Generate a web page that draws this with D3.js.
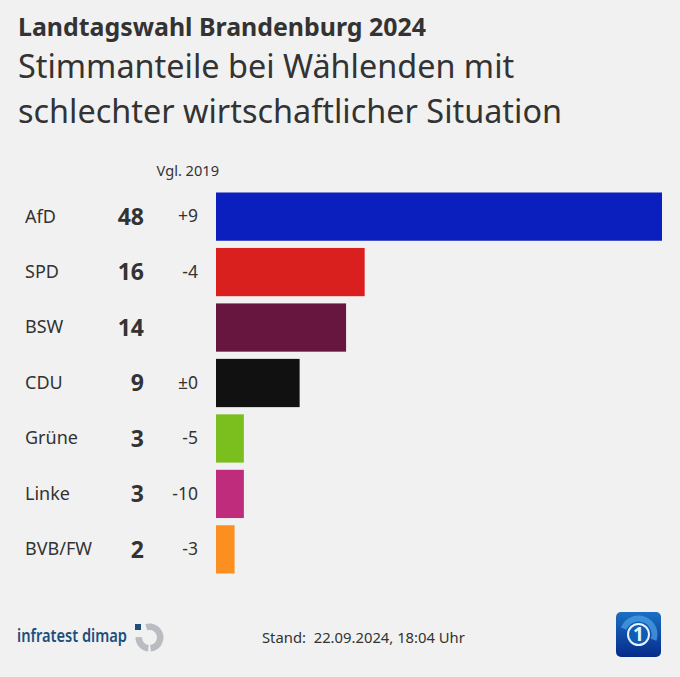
<!DOCTYPE html>
<html>
<head>
<meta charset="utf-8">
<script src="https://cdn.jsdelivr.net/npm/d3@7"></script>
<style>
html, body { margin: 0; padding: 0; background: #f1f1f2; }
svg { display: block; }
text { font-family: "Noto Sans", sans-serif; fill: #333; }
</style>
</head>
<body>
<figure id="chart" style="margin:0"></figure>
<script>
const parties = ['AfD', 'SPD', 'BSW', 'CDU', 'Grüne', 'Linke', 'BVB/FW'];
const shares = [48, 16, 14, 9, 3, 3, 2];
const changes = ['+9', '-4', '', '±0', '-5', '-10', '-3'];
const colors = ['#0a1fbd', '#da1f1f', '#66163f', '#111111', '#7abf1e', '#bf2c7c', '#fb8f1f'];

const width = 680;
const height = 677;

const svg = d3.select('figure#chart')
	.append('svg')
	.attr('width', width)
	.attr('height', height)
	.attr('viewBox', `0 0 ${width} ${height}`);

// titles
svg.append('text').attr('x', 18).attr('y', 36)
	.style('font-size', '24.9px').style('font-weight', 700)
	.text('Landtagswahl Brandenburg 2024');
svg.append('text').attr('x', 18).attr('y', 78)
	.style('font-size', '32.4px')
	.text('Stimmanteile bei Wählenden mit');
svg.append('text').attr('x', 18).attr('y', 123)
	.style('font-size', '32.4px')
	.text('schlechter wirtschaftlicher Situation');

svg.append('text').attr('x', 219).attr('y', 176)
	.attr('text-anchor', 'end')
	.style('font-size', '14.6px')
	.text('Vgl. 2019');

const xScale = d3.scaleLinear().domain([0, 48]).range([216, 662]);
const yScale = d3.scaleBand().domain(parties).range([192.5, 573.5]).paddingInner(0.13);

const rows = parties.map((p, i) => ({ party: p, share: shares[i], change: changes[i], color: colors[i] }));

svg.selectAll('rect.bar')
	.data(rows)
	.enter()
	.append('rect')
	.attr('class', 'bar')
	.attr('x', xScale(0))
	.attr('y', d => yScale(d.party))
	.attr('width', d => xScale(d.share) - xScale(0))
	.attr('height', yScale.bandwidth())
	.attr('fill', d => d.color);

const rowY = d => yScale(d.party) + yScale.bandwidth() / 2;

svg.selectAll('text.party')
	.data(rows)
	.enter()
	.append('text')
	.attr('class', 'party')
	.attr('x', 25)
	.attr('y', rowY)
	.attr('dy', '0.33em')
	.style('font-size', '18px')
	.text(d => d.party);

svg.selectAll('text.share')
	.data(rows)
	.enter()
	.append('text')
	.attr('class', 'share')
	.attr('x', 144)
	.attr('y', rowY)
	.attr('dy', '0.36em')
	.attr('text-anchor', 'end')
	.style('font-size', '23px')
	.style('font-weight', 700)
	.text(d => d.share);

svg.selectAll('text.change')
	.data(rows)
	.enter()
	.append('text')
	.attr('class', 'change')
	.attr('x', 198)
	.attr('y', rowY)
	.attr('dy', '0.33em')
	.attr('text-anchor', 'end')
	.style('font-size', '17.5px')
	.text(d => d.change);

// footer
svg.append('text').attr('x', 17).attr('y', 642)
	.style('font-size', '18px').style('font-weight', 600)
	.style('fill', '#1d4f7c')
	.attr('textLength', 110)
	.attr('lengthAdjust', 'spacingAndGlyphs')
	.text('infratest dimap');

svg.append('text').attr('x', 262).attr('y', 643)
	.style('white-space', 'pre')
	.style('font-size', '14.8px')
	.text('Stand:  22.09.2024, 18:04 Uhr');

// infratest dimap mark
const ring = d3.arc().innerRadius(7.5).outerRadius(14);
const logo = svg.append('g').attr('transform', 'translate(149.5,637.5)');
logo.append('path')
	.attr('d', ring({ startAngle: -0.3, endAngle: 3.05 }))
	.attr('fill', '#b9bcc0');
logo.append('path')
	.attr('d', ring({ startAngle: 3.25, endAngle: 4.75 }))
	.attr('fill', '#b9bcc0');
logo.append('rect')
	.attr('x', -14.5).attr('y', -13.5).attr('width', 6).attr('height', 6)
	.attr('fill', '#1d4f7c');

// tagesschau mark
const defs = svg.append('defs');
const grad = defs.append('linearGradient').attr('id', 'ts')
	.attr('x1', 0).attr('y1', 0).attr('x2', 0).attr('y2', 1);
grad.append('stop').attr('offset', 0).attr('stop-color', '#1a6fc4');
grad.append('stop').attr('offset', 1).attr('stop-color', '#062a8a');

const ts = svg.append('g').attr('transform', 'translate(638.5,634.5)');
ts.append('rect')
	.attr('x', -22.5).attr('y', -22.5).attr('width', 45).attr('height', 45).attr('rx', 5)
	.attr('fill', 'url(#ts)');
const swoosh = d3.arc().innerRadius(13).outerRadius(19);
ts.append('path')
	.attr('d', swoosh({ startAngle: -1.2, endAngle: 1.9 }))
	.attr('fill', '#4a9fe3').attr('opacity', 0.75);
ts.append('circle').attr('r', 10.5).attr('fill', '#0d5cb5').attr('stroke', '#e8f3fb').attr('stroke-width', 2);
ts.append('text').attr('text-anchor', 'middle').attr('y', 6.5)
	.style('font-size', '19px').style('font-weight', 700).style('fill', '#e8f3fb')
	.text('1');
</script>
</body>
</html>
